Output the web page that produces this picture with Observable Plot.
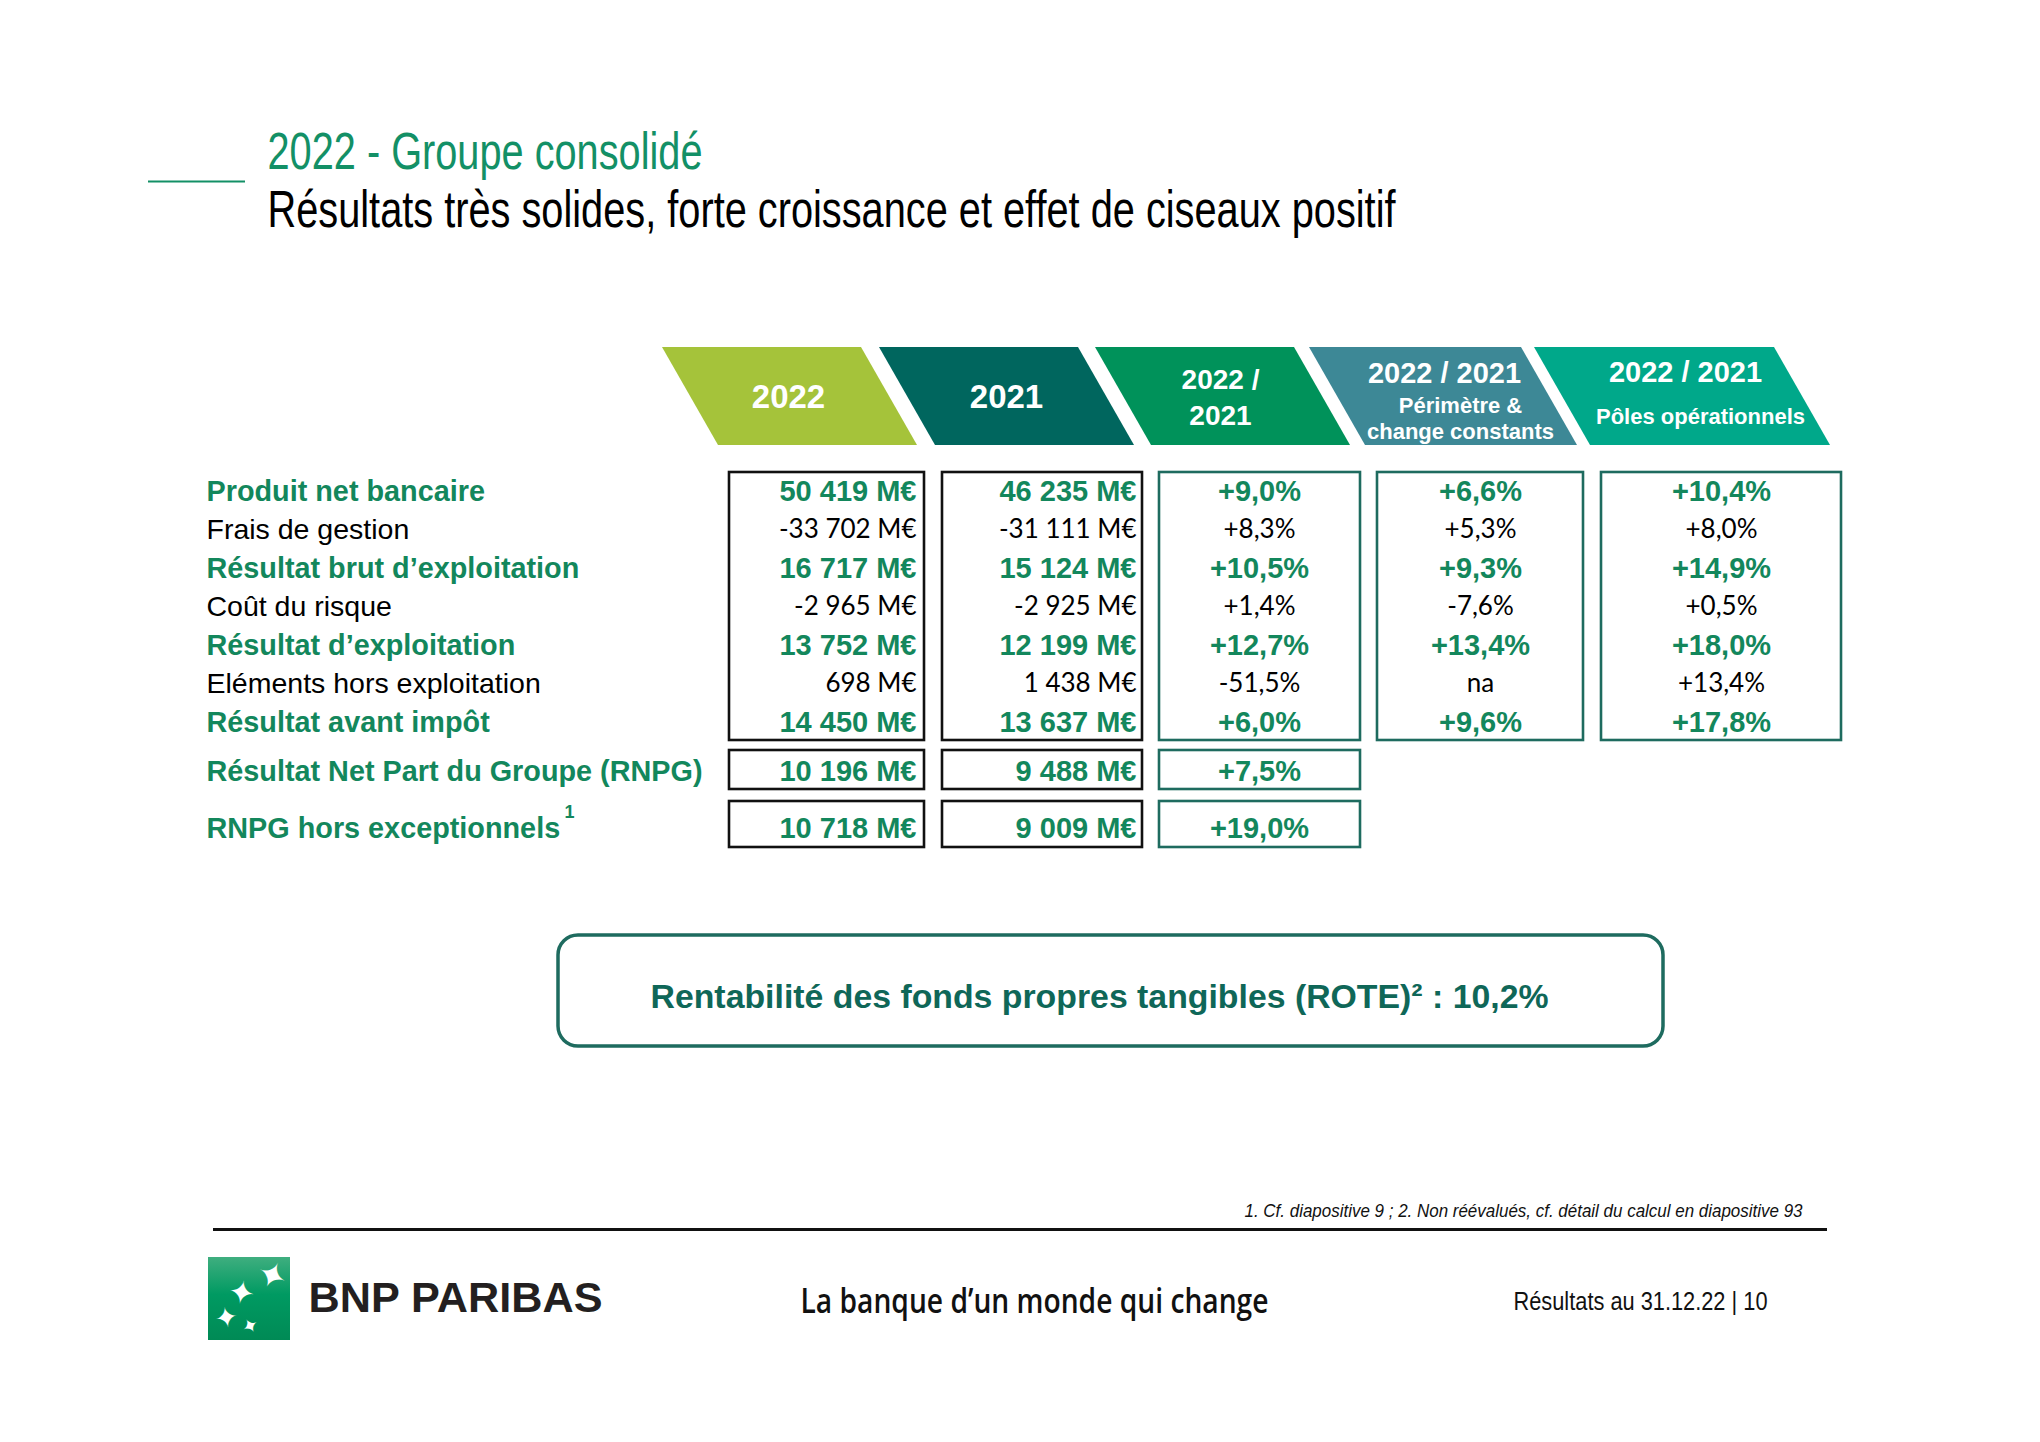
<!DOCTYPE html>
<html><head><meta charset="utf-8">
<script src="https://cdn.jsdelivr.net/npm/d3@7"></script>
<script src="https://cdn.jsdelivr.net/npm/@observablehq/plot@0.6"></script>
<style>html,body{margin:0;padding:0;background:#fff;} #chart svg{display:block;}</style>
</head><body><div id="chart"></div>
<script>
// ================= DATA =================
const rowLabels = [
  "Produit net bancaire", "Frais de gestion", "Résultat brut d’exploitation",
  "Coût du risque", "Résultat d’exploitation", "Eléments hors exploitation",
  "Résultat avant impôt", "Résultat Net Part du Groupe (RNPG)", "RNPG hors exceptionnels"
];
const rowEmphasis = [true, false, true, false, true, false, true, true, true];
const values2022 = [50419, -33702, 16717, -2965, 13752, 698, 14450, 10196, 10718];
const values2021 = [46235, -31111, 15124, -2925, 12199, 1438, 13637, 9488, 9009];
const change = [9.0, 8.3, 10.5, 1.4, 12.7, -51.5, 6.0, 7.5, 19.0];
const changeConstant = [6.6, 5.3, 9.3, -7.6, 13.4, null, 9.6];
const changeDivisions = [10.4, 8.0, 14.9, 0.5, 18.0, 13.4, 17.8];
const columnHeaders = [
  ["2022"], ["2021"], ["2022 /", "2021"],
  ["2022 / 2021", "Périmètre &", "change constants"],
  ["2022 / 2021", "Pôles opérationnels"]
];
const titleText = "2022 - Groupe consolidé";
const subtitleText = "Résultats très solides, forte croissance et effet de ciseaux positif";
const roteLabel = "Rentabilité des fonds propres tangibles (ROTE)² : ";
const roteValue = 10.2;
const footnoteText = "1. Cf. diapositive 9 ; 2. Non réévalués, cf. détail du calcul en diapositive 93";
const taglineText = "La banque d’un monde qui change";
const pageRefText = "Résultats au 31.12.22 | 10";
const brandText = "BNP PARIBAS";
const labelNote = "1";

// ================= LAYOUT / STYLE =================
const GREEN = "#13875c", TITLE_GREEN = "#139066", BOX_TEAL = "#1e6b5f", ROTE_TEAL = "#0f6758";
const cols = [
  {top: [662, 861],  bot: [718, 917],  fill: "#A5C33A", box: [729, 924],  stroke: "#111", anchor: "end",    tx: 916},
  {top: [879, 1078], bot: [935, 1134], fill: "#00665E", box: [942, 1142], stroke: "#111", anchor: "end",    tx: 1136},
  {top: [1095,1294], bot: [1151,1350], fill: "#00925A", box: [1159,1360], stroke: BOX_TEAL, anchor: "middle", tx: 1259},
  {top: [1309,1521], bot: [1365,1577], fill: "#3D8896", box: [1377,1583], stroke: BOX_TEAL, anchor: "middle", tx: 1480},
  {top: [1534,1774], bot: [1590,1830], fill: "#00A88A", box: [1601,1841], stroke: BOX_TEAL, anchor: "middle", tx: 1721}
];
const HEAD_Y = [347, 445];
const headerLinePos = [
  [{x: 788, y: 397, s: 33}],
  [{x: 1006, y: 397, s: 33}],
  [{x: 1220, y: 380, s: 28}, {x: 1220, y: 416, s: 28}],
  [{x: 1444, y: 373, s: 29}, {x: 1460, y: 405, s: 22}, {x: 1460, y: 431, s: 22}],
  [{x: 1685, y: 372, s: 29}, {x: 1700, y: 416, s: 22}]
];
const rowY = [491, 529.5, 568, 606.5, 645, 683.5, 722, 771, 828];
const boxGroups = [
  {y1: 472, y2: 740, cols: [0, 1, 2, 3, 4]},
  {y1: 750, y2: 789, cols: [0, 1, 2]},
  {y1: 801, y2: 847, cols: [0, 1, 2]}
];
const LABEL_X = 206;

// ================= FORMAT =================
const fr = d3.formatLocale({decimal: ",", thousands: "\u00a0", grouping: [3], currency: ["", "€"], minus: "-"});
const fmtM = v => fr.format(",d")(v) + "\u00a0M€";
const fmtP = v => v == null ? "na" : fr.format("+.1f")(v) + "%";
const fmtRote = v => fr.format(".1f")(v) + "%";

// ================= BUILD TABLES =================
const headerShapes = cols.flatMap((c, i) => [
  {col: i, y: HEAD_Y[0], x1: c.top[0], x2: c.top[1], fill: c.fill},
  {col: i, y: HEAD_Y[1], x1: c.bot[0], x2: c.bot[1], fill: c.fill}
]);
const headerLines = columnHeaders.flatMap((lines, i) =>
  lines.map((t, j) => ({text: t, x: headerLinePos[i][j].x, y: headerLinePos[i][j].y, size: headerLinePos[i][j].s})));

const boxes = boxGroups.flatMap(g => g.cols.map(ci => ({
  x1: cols[ci].box[0], x2: cols[ci].box[1], y1: g.y1, y2: g.y2, stroke: cols[ci].stroke
})));

const rows = rowLabels.map((label, i) => ({label, y: rowY[i], strong: rowEmphasis[i]}));
const series = [values2022.map(fmtM), values2021.map(fmtM), change.map(fmtP), changeConstant.map(fmtP), changeDivisions.map(fmtP)];
const cells = series.flatMap((vals, ci) => vals.map((t, ri) => ({
  text: t, x: cols[ci].tx, y: rowY[ri], strong: rowEmphasis[ri], anchor: cols[ci].anchor
})));

const FONT = "'Liberation Sans', Arial, Helvetica, sans-serif";
const fx = {x: "x", y: "y", text: "text"};

const marks = [
  // title decorations
  Plot.ruleY([{y: 181, x1: 148, x2: 245}], {y: "y", x1: "x1", x2: "x2", stroke: TITLE_GREEN, strokeWidth: 2}),
  Plot.text([{text: titleText, x: 267, y: 152}], {...fx, textAnchor: "start", fill: TITLE_GREEN, fontSize: 52, fontFamily: FONT}),
  Plot.text([{text: subtitleText, x: 267, y: 210}], {...fx, textAnchor: "start", fill: "#000", fontSize: 52, fontFamily: FONT}),
  // header parallelograms
  Plot.areaX(headerShapes, {y: "y", x1: "x1", x2: "x2", z: "col", fill: "fill", curve: "linear"}),
  Plot.text(headerLines, {...fx, fontSize: "size", fill: "#fff", fontWeight: "bold", fontFamily: FONT}),
  // boxes
  Plot.rect(boxes, {x1: "x1", x2: "x2", y1: "y1", y2: "y2", stroke: "stroke", fill: "#fff", strokeWidth: 2.6}),
  // labels
  Plot.text(rows.filter(d => d.strong), {x: () => LABEL_X, y: "y", text: "label", textAnchor: "start", fill: GREEN, fontWeight: "bold", fontSize: 28.8, fontFamily: FONT}),
  Plot.text(rows.filter(d => !d.strong), {x: () => LABEL_X, y: "y", text: "label", textAnchor: "start", fill: "#000", fontSize: 28.5, fontFamily: FONT}),
  Plot.text([{text: labelNote, x: 564, y: 812}], {...fx, textAnchor: "start", fill: GREEN, fontWeight: "bold", fontSize: 18, fontFamily: FONT}),
  // values
  Plot.text(cells.filter(d => d.strong && d.anchor === "end"), {...fx, textAnchor: "end", fill: GREEN, fontWeight: "bold", fontSize: 29, fontFamily: FONT}),
  Plot.text(cells.filter(d => d.strong && d.anchor === "middle"), {...fx, textAnchor: "middle", fill: GREEN, fontWeight: "bold", fontSize: 29, fontFamily: FONT}),
  Plot.text(cells.filter(d => !d.strong && d.anchor === "end"), {...fx, textAnchor: "end", fill: "#000", fontSize: 26, fontFamily: "Lato, 'Open Sans', sans-serif"}),
  Plot.text(cells.filter(d => !d.strong && d.anchor === "middle"), {...fx, textAnchor: "middle", fill: "#000", fontSize: 26, fontFamily: "Lato, 'Open Sans', sans-serif"}),
  // ROTE box
  Plot.rect([{x1: 558, x2: 1663, y1: 935, y2: 1046}], {x1: "x1", x2: "x2", y1: "y1", y2: "y2", rx: 20, fill: "#fff", stroke: BOX_TEAL, strokeWidth: 3.5}),
  Plot.text([{text: roteLabel + fmtRote(roteValue), x: 1099, y: 997}], {...fx, fill: ROTE_TEAL, fontWeight: "bold", fontSize: 33, fontFamily: FONT}),
  // footer
  Plot.text([{text: footnoteText, x: 1802, y: 1211}], {...fx, textAnchor: "end", fill: "#111", fontStyle: "italic", fontSize: 18, fontFamily: FONT}),
  Plot.ruleY([{y: 1229, x1: 213, x2: 1827}], {y: "y", x1: "x1", x2: "x2", stroke: "#111", strokeWidth: 3}),
  Plot.rect([{x1: 208, x2: 290, y1: 1257, y2: 1340}], {x1: "x1", x2: "x2", y1: "y1", y2: "y2", fill: "#00965f"}),
  Plot.text([{x: 271, y: 1276, s: 36, r: 25}, {x: 241, y: 1293, s: 32, r: 10}, {x: 226, y: 1318, s: 28, r: -10}, {x: 250, y: 1326, s: 20, r: -30}],
    {x: "x", y: "y", text: () => "✦", fontSize: "s", rotate: "r", fill: "#fff", fontFamily: "'DejaVu Sans', sans-serif"}),
  Plot.text([{text: brandText, x: 308, y: 1298}], {...fx, textAnchor: "start", fill: "#231f20", fontWeight: "bold", fontSize: 42, fontFamily: FONT}),
  Plot.text([{text: taglineText, x: 800, y: 1302}], {...fx, textAnchor: "start", fill: "#111", fontWeight: 600, fontSize: 34, fontFamily: "'Open Sans', sans-serif"}),
  Plot.text([{text: pageRefText, x: 1513, y: 1301}], {...fx, textAnchor: "start", fill: "#111", fontSize: 26, fontFamily: FONT})
];

const plot = Plot.plot({
  width: 2040, height: 1442, margin: 0,
  x: {type: "linear", domain: [0, 2040], range: [0, 2040], axis: null},
  y: {type: "linear", domain: [0, 1442], range: [0, 1442], axis: null},
  color: {type: "identity"},
  style: {fontFamily: FONT, background: "#fff", overflow: "visible"},
  marks
});
document.getElementById("chart").appendChild(plot);

// fit narrow (condensed) fonts to the reference widths
const fitWidths = new Map([
  [titleText, 435], [subtitleText, 1128], [footnoteText, 558], [taglineText, 468],
  [pageRefText, 254], [brandText, 294], [roteLabel + fmtRote(roteValue), 898]
]);
const svg = d3.select(plot);
svg.selectAll("text").each(function() {
  const w = fitWidths.get(this.textContent);
  if (w) d3.select(this).attr("textLength", w).attr("lengthAdjust", "spacingAndGlyphs");
});
// logo gradient
const defs = svg.insert("defs", ":first-child");
const grad = defs.append("linearGradient").attr("id", "bnpGrad").attr("x1", 0).attr("y1", 0).attr("x2", 0).attr("y2", 1);
grad.append("stop").attr("offset", "0%").attr("stop-color", "#3fae7f");
grad.append("stop").attr("offset", "45%").attr("stop-color", "#009a62");
grad.append("stop").attr("offset", "100%").attr("stop-color", "#008a55");
svg.selectAll('[fill="#00965f"]').attr("fill", "url(#bnpGrad)");
</script>
</body></html>
